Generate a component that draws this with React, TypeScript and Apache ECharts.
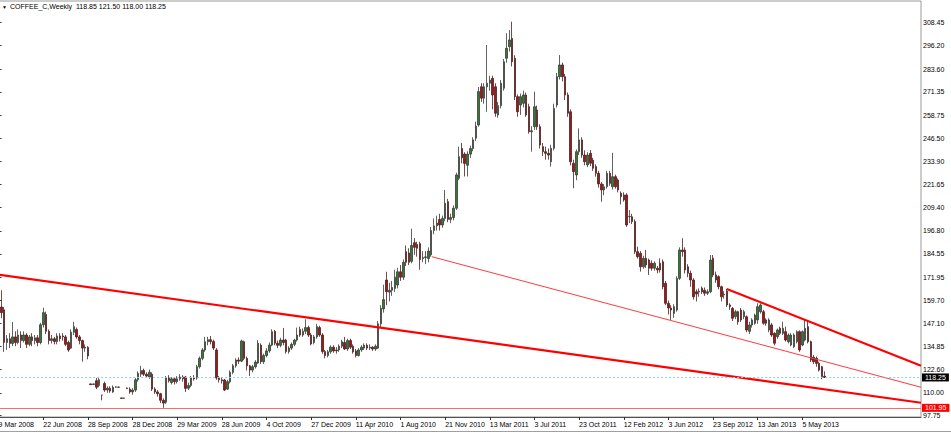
import React, { useEffect, useRef } from "react";
import * as echarts from "echarts";

// ---- tick labels ----
const dateLabels = [
  "9 Mar 2008", "22 Jun 2008", "28 Sep 2008", "28 Dec 2008", "29 Mar 2009",
  "28 Jun 2009", "4 Oct 2009", "27 Dec 2009", "11 Apr 2010", "1 Aug 2010",
  "21 Nov 2010", "13 Mar 2011", "3 Jul 2011", "23 Oct 2011", "12 Feb 2012",
  "3 Jun 2012", "23 Sep 2012", "13 Jan 2013", "5 May 2013",
];
const barsPerLabel = 16;
const slotCount = 331; // weekly slots incl. empty right margin
const priceTicks = [
  308.45, 296.2, 283.6, 271.35, 258.75, 246.5, 233.9, 221.65, 209.4,
  196.8, 184.55, 171.95, 159.7, 147.1, 134.85, 122.6, 110.0, 97.75,
];
const headerQuote = [118.85, 121.5, 118.0, 118.25];
const lastPrice = 118.25;
const lowLevel = 101.95;

// ---- trend lines [slot, price] ----
const trendMain = [[-0.5, 173.4], [330.5, 104.7]];
const trendLows = [[155.2, 183.0], [330.5, 113.0]];
const trendHighs = [[260.9, 165.7], [330.5, 124.5]];

// ---- weekly bars [open, close, low, high] ----
const ohlc2008a = [
  [150, 156, 148, 158], [156, 153, 150, 165], [154.5, 137, 132, 156], [137, 139, 133, 141],
  [139, 136.5, 134, 142], [136.5, 140, 135, 148], [140, 137, 135, 143], [137, 141, 136, 144],
  [141, 138, 134, 143], [138, 141, 137, 143], [141, 136, 134, 142], [136, 140, 135, 141],
  [140, 138, 135, 142], [138, 139.5, 136, 141], [139.5, 137, 135, 141], [137, 146.5, 136, 147.5],
  [146.5, 153, 145, 155.6], [152, 143, 141.5, 153.5], [143, 138, 136, 144], [138, 139, 136.5, 141],
  [139, 137.5, 136, 140], [137.5, 140.5, 136, 142], [140.5, 139, 137.5, 142], [140.5, 140, 138, 142],
  [140, 136, 135, 141], [137, 133, 132, 138], [134, 142.5, 133.5, 144], [142.5, 145.5, 141, 148.1],
  [144, 140, 139, 145], [140, 138, 136, 141], [138, 134, 126.7, 138.5], [134, 134.5, 132, 136],
  [134.4, 129.8, 128, 135],
];
const ohlc2008b = [
  [114.8, 114.4, 114.2, 115], [114.5, 114.8, 114.3, 115], [116.5, 113, 112, 118], [114, 117, 113, 118.5],
  [108.8, 108.8, 106, 108.8], [115, 111.5, 110.5, 116], [111.5, 112.5, 110, 113.5], [112.5, 111, 110, 113.5],
  [110.5, 113, 110, 114], [113, 113.2, 112.8, 113.5], [113.1, 113, 112.8, 113.3], [107.3, 107, 106.8, 107.4],
  [107.2, 107.1, 106.9, 107.4], [112.6, 112.3, 112, 112.8], [112, 110.5, 109.5, 113], [110.5, 111.5, 109, 112.5],
  [111.5, 117, 110.5, 118], [117, 120.5, 116, 121.5], [120, 122, 118.5, 124.5], [122, 120, 119, 123],
  [120, 119, 118, 121], [118.5, 121, 117.5, 122.5], [120, 112, 111, 121], [112, 110.5, 109.5, 113],
  [110.5, 109.5, 108, 111.5], [109.5, 106, 104.5, 110], [106, 104.5, 101.95, 107], [105, 118, 104, 119],
  [118, 116.5, 115.5, 119.5], [115.5, 117.5, 114.5, 118.5],
];
const ohlc2009 = [
  [117.5, 116, 114.5, 118], [116, 117.5, 115, 119], [117.5, 118.5, 116.5, 120], [118.5, 117.5, 116, 119.5],
  [118.5, 112.4, 110.5, 119], [112.5, 114, 111.5, 115.5], [114, 118, 113, 119], [118, 117.5, 116.5, 119.5],
  [118, 124, 117, 125], [124, 128.5, 123, 129.5], [128.5, 133, 127.5, 134], [133, 137.4, 132, 140],
  [137.4, 138.5, 135.5, 140], [138.5, 137.5, 136, 140.5], [137.5, 134, 133, 138.5], [133, 118, 117, 134],
  [118, 117, 115.5, 119], [117, 116.5, 115, 118.5], [116.9, 111.5, 111, 117.5], [112, 116, 111.5, 117],
  [116, 121, 115, 122], [121, 124.5, 120, 125.5], [124.5, 127.6, 123.5, 128.5], [127.6, 127, 125.5, 129],
  [127, 137.8, 126.5, 138.5], [137.4, 128.5, 127.5, 138], [128.5, 124.5, 122, 129.5], [124.5, 122.2, 119, 125],
  [122.2, 124, 121, 125], [124, 126.5, 123, 127.5], [126, 136.6, 125.5, 138.3], [135.6, 126.7, 125.5, 136.5],
  [126.7, 130, 125.5, 131], [130, 132.5, 129, 134], [132.5, 135.6, 131.5, 137], [135.6, 142.8, 135, 144.1],
  [143, 136.6, 135.5, 143.7], [136.6, 135.5, 134, 138], [135.5, 138.3, 134.5, 139.5], [138.3, 137, 135.5, 144.8],
  [138.3, 132.1, 131, 139], [132.1, 134, 131, 135], [134, 136, 133, 137], [136, 138.3, 135, 139],
  [138.3, 141, 137.5, 145], [144, 141, 140, 145.5], [141, 143, 140, 144.5], [143, 145, 141.5, 149.4],
  [145, 141, 140, 146], [141, 136.2, 135.5, 142], [137, 140, 136, 141], [140, 145.5, 139, 147],
  [145, 141, 140, 146], [141, 132.1, 131, 142], [132.1, 130, 128.5, 133], [130, 132, 129, 133],
  [132, 134.5, 131, 135.5], [134.5, 132.5, 131.5, 135.5], [132.5, 133, 131, 134.5], [133, 135, 132, 136],
  [135, 137.4, 134, 138.5], [137, 133.5, 133, 140], [133.5, 138, 132.5, 139], [138, 134.5, 133.5, 139],
  [135, 132, 131, 136], [132.5, 130, 129, 133.5], [130, 133, 129.5, 134], [133, 134.5, 132, 135.5],
  [134, 135.5, 133, 136.5], [135.5, 134, 133, 136.5], [134, 134.5, 133, 136], [134.5, 133.5, 132.5, 135],
  [133.5, 135, 132.5, 136], [134, 147, 133.5, 148.5],
];
const ohlc2010 = [
  [147, 155.3, 145, 157], [155, 160, 153, 168], [170.5, 164.2, 157, 174.9], [164, 165, 159, 169],
  [165, 166.5, 162, 170], [166, 172, 164, 176], [167.8, 174.9, 166, 177], [174.9, 172, 170, 178.5],
  [172, 180, 170.5, 181.5], [185.7, 180, 178, 189], [185, 180, 178.5, 187.5], [180.5, 189, 179.5, 198],
  [190.5, 188, 184, 193], [189.5, 187.5, 183, 191], [190, 181.5, 176, 191], [182, 182.5, 180, 186],
  [182.5, 182.9, 179, 186], [182, 186, 180, 188], [184, 197, 183, 199], [197, 199.5, 195, 203.5],
  [199.5, 201, 197, 205], [203, 200, 197, 206], [200, 203.5, 198.5, 205], [203.5, 211.6, 202, 218.8],
  [212.5, 203, 201.5, 214], [203, 204, 201, 206], [204, 209, 202.5, 210.5], [209, 226.8, 208, 228],
  [225, 236.6, 224, 242], [241, 236, 233, 244], [238, 233, 226, 239], [232, 238, 226, 239.5],
  [238, 241, 236, 242.5], [241, 245.6, 239.5, 247], [246.5, 253, 245, 255.4],
];
const ohlc2011 = [
  [253.6, 271.5, 252.7, 274], [274.1, 268, 266, 276], [268, 274.1, 265, 276], [274.1, 276, 260.7, 296.5],
  [276, 277.7, 272, 280], [278.6, 269.7, 262, 280], [274.1, 259.9, 258, 276], [259, 264, 257.5, 266],
  [264, 276, 262.5, 277.7], [273.3, 287.5, 272, 289], [289.4, 294.7, 287, 302.8], [295.6, 299.2, 293, 304.5],
  [300, 287.5, 285, 309], [289.4, 268.8, 267, 291], [268.8, 260.7, 258, 270], [264.3, 268.8, 259, 270.5],
  [265.2, 269.7, 263, 272], [269.7, 259, 258, 271], [263.4, 250, 249, 265], [250, 250.5, 239.3, 253],
  [252.7, 263.4, 251, 271.5], [261.6, 252.7, 251, 264], [252.7, 242.9, 241, 254], [242, 239.3, 237, 244],
  [239.3, 238.4, 235, 242], [238.4, 237.5, 235, 241], [233.9, 241.1, 231.3, 243], [241.1, 262.5, 240, 265],
  [264.3, 279.5, 263, 281.5], [279.5, 285.8, 278, 291.1], [285.8, 279.5, 277, 287], [279.5, 269.7, 267, 281],
  [269.7, 259.9, 258, 271], [260.7, 233.9, 232, 262], [233.1, 228.6, 219.7, 235], [226.8, 239.3, 224, 240.5],
  [239.3, 245.6, 237.5, 251.8], [245.6, 237.5, 236, 247], [237.5, 233.9, 232, 240], [232.2, 237.5, 231, 239],
  [238.4, 233.1, 231.5, 240.2], [234.8, 230.4, 229, 236], [231.3, 227.7, 225.9, 232.5], [227.7, 222, 220, 229],
  [222, 218.8, 212.5, 223], [218.8, 220.5, 216, 222], [220.5, 227.7, 219.5, 229], [227.7, 222.3, 221, 229],
  [220.5, 225.9, 219, 238.7], [225.9, 220.5, 219.5, 227], [224.1, 218.8, 217.5, 225], [217, 215.2, 211, 218],
  [216.1, 213.4, 212.5, 217.5],
];
const ohlc2012 = [
  [216.1, 200, 199, 217], [204.4, 204.6, 201, 208], [204.4, 201.8, 200.5, 206], [201.8, 185.7, 184.5, 203],
  [185.7, 183, 182, 188.4], [184.8, 177.6, 175, 186], [177.6, 182.1, 176.5, 183.5], [182.1, 178.6, 177, 186.6],
  [181.2, 176.8, 173.2, 182], [179.5, 176.8, 175.5, 181], [176.8, 179.5, 175.5, 180.5], [176.8, 175.9, 174.1, 178],
  [179.5, 175.9, 174.5, 182.1], [180.3, 166.9, 165.5, 181.5], [168.7, 158, 157, 170], [158, 155.5, 152, 159.5],
  [155.5, 154.4, 149.1, 157], [152.6, 156.2, 150.2, 157.5], [154.4, 171.4, 153.5, 172.5], [171.4, 186.6, 170.5, 188],
  [186.6, 185.7, 183, 192.9], [186.6, 175.9, 174, 188], [177.6, 174.1, 172, 179], [174.1, 170.5, 166.9, 175.5],
  [170.5, 161.5, 160, 171.5], [164.2, 163, 159, 165.5], [164, 164.5, 161.5, 166], [166.1, 164.2, 163, 167],
  [165, 163.4, 162, 166.5], [163.4, 164.2, 162.5, 165.5], [164.2, 181.2, 163.5, 183.9], [182.1, 173.2, 172, 183.9],
  [173.2, 170.5, 169, 175], [172.3, 166.9, 165.5, 173], [166.9, 161.5, 159, 167.5], [162.5, 162.9, 160.5, 164.5],
  [164.5, 157.1, 156, 165.7], [157.1, 156.2, 154.5, 158], [155.3, 150, 148.5, 156], [150.8, 153.5, 149.5, 154.5],
  [153.5, 148.1, 146.5, 154],
];
const ohlc2013 = [
  [154.4, 149.1, 148, 155.5], [150.8, 153.5, 149.5, 154.5], [150.8, 143.7, 142.5, 151.5], [143, 146.4, 141.5, 148.1],
  [146.4, 149.1, 145, 150], [147.3, 151.7, 146.5, 152.5], [149.1, 156.2, 147, 158], [153.5, 157.1, 152.5, 158],
  [153.5, 147.3, 146.5, 154.5], [149.1, 147.3, 146, 150], [143.7, 149.1, 142.5, 150], [146.4, 141, 140, 147.5],
  [141.9, 136.6, 135.5, 142.5], [140.1, 143.7, 139, 144.5], [144.6, 141.9, 141, 145.5], [141.9, 144.6, 141, 148.1],
  [142.8, 138.3, 137.5, 145.5], [137.4, 141, 136.5, 141.9], [135.65, 141, 135, 142], [134.7, 141, 134, 141.9],
  [137.4, 142.8, 136.5, 143.5], [142.8, 133, 132, 143.5], [135.65, 142.8, 135, 143.5], [138.3, 144.6, 137.5, 149.1],
  [145.5, 137.4, 136.5, 149.1], [137.4, 127.6, 126.5, 138], [129.1, 126.7, 125.5, 130.3], [128.5, 125.8, 124, 129.5],
  [125.8, 122.2, 121.5, 126.7], [124, 118.7, 117.3, 124.5], [118.85, 118.25, 118.0, 121.5],
];

const FONT = "'Liberation Sans', Arial, sans-serif";

export default function App() {
  const ref = useRef<HTMLDivElement>(null);

  useEffect(() => {
    if (!ref.current) return;
    const chart = echarts.init(ref.current, undefined, { renderer: "svg" });
    const bars = [...ohlc2008a, ...ohlc2008b, ...ohlc2009, ...ohlc2010, ...ohlc2011, ...ohlc2012, ...ohlc2013];
    const slots = Array.from({ length: slotCount }, (_, i) => String(i));
    const isLabelSlot = (idx: number) =>
      idx % barsPerLabel === 0 && idx / barsPerLabel < dateLabels.length;

    const option: any = {
      animation: false,
      backgroundColor: "#ffffff",
      textStyle: { fontFamily: FONT },
      grid: {
        left: -2.8,
        right: 30,
        top: 1,
        bottom: 15,
        containLabel: false,
        outerBoundsMode: "none",
        show: true,
        borderColor: "#9a9a9a",
        borderWidth: 1,
      },
      xAxis: [
        {
          type: "category",
          data: slots,
          boundaryGap: true,
          axisLine: { show: true, lineStyle: { color: "#505050", width: 1 } },
          axisTick: {
            show: true,
            alignWithLabel: true,
            interval: (idx: number) => isLabelSlot(idx),
            length: 3,
            lineStyle: { color: "#303030" },
          },
          axisLabel: {
            interval: (idx: number) => isLabelSlot(idx),
            formatter: (_v: string, idx: number) => dateLabels[idx / barsPerLabel] ?? "",
            align: "left",
            margin: 4,
            fontSize: 7,
            color: "#000",
            fontFamily: FONT,
          },
          splitLine: { show: false },
        },
        {
          type: "value",
          min: -0.5,
          max: slotCount - 0.5,
          show: false,
        },
      ],
      yAxis: {
        type: "value",
        position: "right",
        min: 97.05,
        max: 320.08,
        scale: true,
        splitLine: { show: false },
        axisLine: { show: true, lineStyle: { color: "#404040", width: 1 } },
        axisTick: {
          show: true,
          customValues: priceTicks,
          length: 3,
          lineStyle: { color: "#404040" },
        },
        axisLabel: {
          customValues: priceTicks,
          formatter: (v: number) => v.toFixed(2),
          fontSize: 7,
          color: "#000",
          margin: 2,
          fontFamily: FONT,
        },
      },
      series: [
        {
          type: "candlestick",
          xAxisIndex: 0,
          yAxisIndex: 0,
          data: bars,
          barWidth: 2,
          itemStyle: {
            color: "#2f7d2f",
            color0: "#a81414",
            borderColor: "#3a3a3a",
            borderColor0: "#4a2020",
            borderWidth: 0.8,
          },
          markLine: {
            silent: true,
            symbol: ["none", "none"],
            animation: false,
            data: [
              {
                yAxis: lastPrice,
                lineStyle: { color: "#8fcdee", type: [2, 2], width: 1 },
                label: {
                  show: true,
                  position: "end",
                  distance: 1,
                  formatter: () => lastPrice.toFixed(2),
                  backgroundColor: "#000",
                  color: "#fff",
                  fontSize: 7,
                  padding: [1, 3, 0, 3],
                  fontFamily: FONT,
                },
              },
              {
                yAxis: lowLevel,
                lineStyle: { color: "#ff6a6a", type: "solid", width: 1 },
                label: {
                  show: true,
                  position: "end",
                  distance: 1,
                  formatter: () => lowLevel.toFixed(2),
                  backgroundColor: "#ff0000",
                  color: "#fff",
                  fontSize: 7,
                  padding: [1, 3, 0, 3],
                  fontFamily: FONT,
                },
              },
            ],
          },
        },
        {
          type: "line",
          xAxisIndex: 1,
          data: trendMain,
          symbol: "none",
          silent: true,
          lineStyle: { color: "#ff0000", width: 2.2 },
        },
        {
          type: "line",
          xAxisIndex: 1,
          data: trendLows,
          symbol: "none",
          silent: true,
          lineStyle: { color: "#ff3a3a", width: 1 },
        },
        {
          type: "line",
          xAxisIndex: 1,
          data: trendHighs,
          symbol: "none",
          silent: true,
          lineStyle: { color: "#ff0000", width: 2.2 },
        },
      ],
      graphic: [
        { type: "text", left: 2, top: 4, style: { text: "▼", fontSize: 5, fill: "#000" } },
        {
          type: "text",
          left: 10,
          top: 3,
          style: {
            text: "COFFEE_C,Weekly  " + headerQuote.map((v) => v.toFixed(2)).join(" "),
            fontSize: 7,
            fill: "#000",
            fontFamily: FONT,
          },
        },
        {
          type: "line",
          shape: { x1: 0, y1: 431.5, x2: 951, y2: 431.5 },
          style: { stroke: "#a0a0a0", lineWidth: 1 },
        },
      ],
    };
    chart.setOption(option);
    return () => chart.dispose();
  }, []);

  return (
    <div
      ref={ref}
      style={{ position: "fixed", left: 0, top: 0, width: 951, height: 432, background: "#fff" }}
    />
  );
}
